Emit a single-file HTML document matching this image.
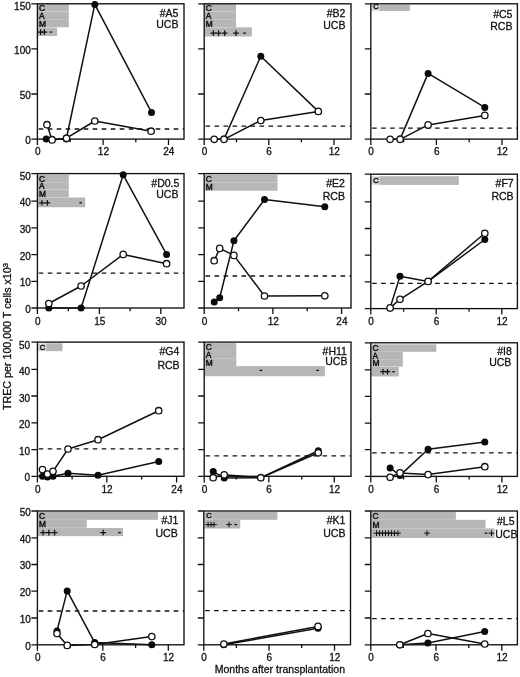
<!DOCTYPE html>
<html><head><meta charset="utf-8"><title>TREC per 100,000 T cells</title>
<style>html,body{margin:0;padding:0;background:#fff}svg{display:block}text{font-family:"Liberation Sans", Arial, Helvetica, sans-serif;fill:#111;stroke:#111;stroke-width:0.3px}text.b{stroke-width:0.45px}</style>
</head><body>
<svg width="520" height="677" viewBox="0 0 520 677">
<rect width="520" height="677" fill="#fff"/>
<g>
<rect x="37.80" y="4.10" width="31.00" height="7.25" fill="#b6b6b6"/>
<text x="39.0" y="10.8" font-size="8.4" class="b">C</text>
<rect x="37.80" y="11.45" width="31.00" height="7.65" fill="#b6b6b6"/>
<text x="39.0" y="18.6" font-size="8.4" class="b">A</text>
<rect x="37.80" y="19.20" width="31.00" height="8.05" fill="#b6b6b6"/>
<text x="39.0" y="26.8" font-size="8.4" class="b">M</text>
<rect x="37.80" y="27.56" width="19.30" height="8.45" fill="#b6b6b6"/>
<path d="M37.8 32.1h5.6M40.6 29.3v5.6" stroke="#111" stroke-width="1.20" fill="none"/>
<path d="M41.6 32.1h5.6M44.4 29.3v5.6" stroke="#111" stroke-width="1.20" fill="none"/>
<path d="M49.6 32.1h2.6" stroke="#111" stroke-width="1.3" fill="none"/>
<rect x="37.4" y="3.8" width="146.6" height="135.3" fill="none" stroke="#111" stroke-width="1.35"/>
<text x="30.8" y="144.0" font-size="10" text-anchor="end">0</text>
<text x="30.8" y="99.0" font-size="10" text-anchor="end">50</text>
<text x="30.8" y="54.0" font-size="10" text-anchor="end">100</text>
<text x="30.8" y="10.0" font-size="10" text-anchor="end">150</text>
<text x="37.7" y="155.0" font-size="10" text-anchor="middle">0</text>
<text x="103.4" y="155.0" font-size="10" text-anchor="middle">12</text>
<text x="168.8" y="155.0" font-size="10" text-anchor="middle">24</text>
<path d="M37.4 139.1h-6M37.4 94.0h-6M37.4 48.9h-6M37.4 3.8h-6M37.4 139.1v6M70.2 139.1v3.2M103.1 139.1v6M135.8 139.1v3.2M168.5 139.1v6" stroke="#111" stroke-width="1.3" fill="none"/>
<path d="M38.7 129.0H184.0" stroke="#111" stroke-width="1.3" stroke-dasharray="4.6 4.4" fill="none"/>
<polyline points="46.2,139.1 52.0,139.3 66.3,139.0 94.8,4.4 151.5,112.4" fill="none" stroke="#111" stroke-width="1.5" stroke-linejoin="round"/>
<polyline points="47.0,124.7 52.1,139.9 66.5,138.2 94.8,121.0 151.1,131.2" fill="none" stroke="#111" stroke-width="1.5" stroke-linejoin="round"/>
<circle cx="46.2" cy="139.1" r="3.5" fill="#0a0a0a"/>
<circle cx="52.0" cy="139.3" r="3.5" fill="#0a0a0a"/>
<circle cx="66.3" cy="139.0" r="3.5" fill="#0a0a0a"/>
<circle cx="94.8" cy="4.4" r="3.5" fill="#0a0a0a"/>
<circle cx="151.5" cy="112.4" r="3.5" fill="#0a0a0a"/>
<circle cx="47.0" cy="124.7" r="3.2" fill="#fff" stroke="#111" stroke-width="1.3"/>
<circle cx="52.1" cy="139.9" r="3.2" fill="#fff" stroke="#111" stroke-width="1.3"/>
<circle cx="66.5" cy="138.2" r="3.2" fill="#fff" stroke="#111" stroke-width="1.3"/>
<circle cx="94.8" cy="121.0" r="3.2" fill="#fff" stroke="#111" stroke-width="1.3"/>
<circle cx="151.1" cy="131.2" r="3.2" fill="#fff" stroke="#111" stroke-width="1.3"/>
<text x="178.4" y="17" font-size="10.5" text-anchor="end">#A5</text>
<text x="178.4" y="28" font-size="10.5" text-anchor="end">UCB</text>
</g>
<g>
<rect x="204.60" y="4.10" width="31.40" height="7.25" fill="#b6b6b6"/>
<text x="205.8" y="10.8" font-size="8.4" class="b">C</text>
<rect x="204.60" y="11.45" width="31.40" height="7.65" fill="#b6b6b6"/>
<text x="205.8" y="18.6" font-size="8.4" class="b">A</text>
<rect x="204.60" y="19.20" width="31.40" height="8.05" fill="#b6b6b6"/>
<text x="205.8" y="26.8" font-size="8.4" class="b">M</text>
<rect x="204.60" y="27.36" width="47.20" height="9.16" fill="#b6b6b6"/>
<path d="M210.5 33.1h5.6M213.3 30.3v5.6" stroke="#111" stroke-width="1.20" fill="none"/>
<path d="M215.8 33.1h5.6M218.6 30.3v5.6" stroke="#111" stroke-width="1.20" fill="none"/>
<path d="M221.9 33.1h5.6M224.7 30.3v5.6" stroke="#111" stroke-width="1.20" fill="none"/>
<path d="M233.2 33.1h5.6M236.0 30.3v5.6" stroke="#111" stroke-width="1.20" fill="none"/>
<path d="M243.2 33.1h2.6" stroke="#111" stroke-width="1.3" fill="none"/>
<rect x="204.2" y="3.8" width="146.8" height="135.3" fill="none" stroke="#111" stroke-width="1.35"/>
<text x="204.5" y="155.0" font-size="10" text-anchor="middle">0</text>
<text x="269.1" y="155.0" font-size="10" text-anchor="middle">6</text>
<text x="334.3" y="155.0" font-size="10" text-anchor="middle">12</text>
<path d="M204.2 139.1h-6M204.2 94.0h-6M204.2 48.9h-6M204.2 3.8h-6M204.2 139.1v6M236.5 139.1v3.2M268.8 139.1v6M301.4 139.1v3.2M334.0 139.1v6" stroke="#111" stroke-width="1.3" fill="none"/>
<path d="M205.5 126.2H351.0" stroke="#111" stroke-width="1.3" stroke-dasharray="4.6 4.4" fill="none"/>
<polyline points="224.0,139.1 260.8,56.2 318.3,111.4" fill="none" stroke="#111" stroke-width="1.5" stroke-linejoin="round"/>
<polyline points="214.2,139.3 224.0,139.3 260.8,120.5 318.3,111.4" fill="none" stroke="#111" stroke-width="1.5" stroke-linejoin="round"/>
<circle cx="224.0" cy="139.1" r="3.5" fill="#0a0a0a"/>
<circle cx="260.8" cy="56.2" r="3.5" fill="#0a0a0a"/>
<circle cx="318.3" cy="111.4" r="3.5" fill="#0a0a0a"/>
<circle cx="214.2" cy="139.3" r="3.2" fill="#fff" stroke="#111" stroke-width="1.3"/>
<circle cx="224.0" cy="139.3" r="3.2" fill="#fff" stroke="#111" stroke-width="1.3"/>
<circle cx="260.8" cy="120.5" r="3.2" fill="#fff" stroke="#111" stroke-width="1.3"/>
<circle cx="318.3" cy="111.4" r="3.2" fill="#fff" stroke="#111" stroke-width="1.3"/>
<text x="345.4" y="17" font-size="10.5" text-anchor="end">#B2</text>
<text x="345.4" y="29" font-size="10.5" text-anchor="end">UCB</text>
</g>
<g>
<rect x="371.20" y="4.91" width="8.80" height="5.84" fill="#d2d2d2"/>
<rect x="379.80" y="4.71" width="30.20" height="6.24" fill="#b6b6b6"/>
<text x="373.2" y="9.4" font-size="7.6" class="b">C</text>
<rect x="370.8" y="3.8" width="146.6" height="135.3" fill="none" stroke="#111" stroke-width="1.35"/>
<text x="371.1" y="155.0" font-size="10" text-anchor="middle">0</text>
<text x="436.7" y="155.0" font-size="10" text-anchor="middle">6</text>
<text x="502.3" y="155.0" font-size="10" text-anchor="middle">12</text>
<path d="M370.8 139.1h-6M370.8 94.0h-6M370.8 48.9h-6M370.8 3.8h-6M370.8 139.1v6M403.6 139.1v3.2M436.4 139.1v6M469.2 139.1v3.2M502.0 139.1v6" stroke="#111" stroke-width="1.3" fill="none"/>
<path d="M372.1 128.2H517.4" stroke="#111" stroke-width="1.3" stroke-dasharray="4.6 4.4" fill="none"/>
<polyline points="400.1,139.1 428.1,73.4 484.8,107.4" fill="none" stroke="#111" stroke-width="1.5" stroke-linejoin="round"/>
<polyline points="390.1,139.3 400.1,139.3 428.1,124.9 484.8,115.4" fill="none" stroke="#111" stroke-width="1.5" stroke-linejoin="round"/>
<circle cx="400.1" cy="139.1" r="3.5" fill="#0a0a0a"/>
<circle cx="428.1" cy="73.4" r="3.5" fill="#0a0a0a"/>
<circle cx="484.8" cy="107.4" r="3.5" fill="#0a0a0a"/>
<circle cx="390.1" cy="139.3" r="3.2" fill="#fff" stroke="#111" stroke-width="1.3"/>
<circle cx="400.1" cy="139.3" r="3.2" fill="#fff" stroke="#111" stroke-width="1.3"/>
<circle cx="428.1" cy="124.9" r="3.2" fill="#fff" stroke="#111" stroke-width="1.3"/>
<circle cx="484.8" cy="115.4" r="3.2" fill="#fff" stroke="#111" stroke-width="1.3"/>
<text x="512.4" y="18" font-size="10.5" text-anchor="end">#C5</text>
<text x="512.4" y="30" font-size="10.5" text-anchor="end">RCB</text>
</g>
<g>
<rect x="37.80" y="174.70" width="31.00" height="7.41" fill="#b6b6b6"/>
<text x="39.0" y="181.6" font-size="8.4" class="b">C</text>
<rect x="37.80" y="182.21" width="31.00" height="7.41" fill="#b6b6b6"/>
<text x="39.0" y="189.1" font-size="8.4" class="b">A</text>
<rect x="37.80" y="189.72" width="31.00" height="7.61" fill="#b6b6b6"/>
<text x="39.0" y="196.8" font-size="8.4" class="b">M</text>
<rect x="37.80" y="197.54" width="47.40" height="9.71" fill="#b6b6b6"/>
<path d="M39.1 202.8h5.6M41.9 200.0v5.6" stroke="#111" stroke-width="1.20" fill="none"/>
<path d="M44.6 202.8h5.6M47.4 200.0v5.6" stroke="#111" stroke-width="1.20" fill="none"/>
<path d="M79.4 202.8h2.6" stroke="#111" stroke-width="1.3" fill="none"/>
<rect x="37.4" y="173.6" width="146.6" height="134.4" fill="none" stroke="#111" stroke-width="1.35"/>
<text x="30.8" y="313.0" font-size="10" text-anchor="end">0</text>
<text x="30.8" y="286.0" font-size="10" text-anchor="end">10</text>
<text x="30.8" y="260.0" font-size="10" text-anchor="end">20</text>
<text x="30.8" y="233.0" font-size="10" text-anchor="end">30</text>
<text x="30.8" y="206.0" font-size="10" text-anchor="end">40</text>
<text x="30.8" y="180.0" font-size="10" text-anchor="end">50</text>
<text x="37.7" y="325.0" font-size="10" text-anchor="middle">0</text>
<text x="99.7" y="325.0" font-size="10" text-anchor="middle">15</text>
<text x="161.1" y="325.0" font-size="10" text-anchor="middle">30</text>
<path d="M37.4 308.0h-6M37.4 281.3h-6M37.4 254.6h-6M37.4 227.9h-6M37.4 201.2h-6M37.4 173.6h-6M37.4 308.0v6M68.4 308.0v3.2M99.4 308.0v6M130.1 308.0v3.2M160.8 308.0v6" stroke="#111" stroke-width="1.3" fill="none"/>
<path d="M38.7 273.2H184.0" stroke="#111" stroke-width="1.3" stroke-dasharray="4.6 4.4" fill="none"/>
<polyline points="48.8,308.0 81.1,308.0 123.2,174.8 166.6,254.4" fill="none" stroke="#111" stroke-width="1.5" stroke-linejoin="round"/>
<polyline points="48.8,303.5 81.1,286.0 123.2,254.4 166.6,263.7" fill="none" stroke="#111" stroke-width="1.5" stroke-linejoin="round"/>
<circle cx="48.8" cy="308.0" r="3.5" fill="#0a0a0a"/>
<circle cx="81.1" cy="308.0" r="3.5" fill="#0a0a0a"/>
<circle cx="123.2" cy="174.8" r="3.5" fill="#0a0a0a"/>
<circle cx="166.6" cy="254.4" r="3.5" fill="#0a0a0a"/>
<circle cx="48.8" cy="303.5" r="3.2" fill="#fff" stroke="#111" stroke-width="1.3"/>
<circle cx="81.1" cy="286.0" r="3.2" fill="#fff" stroke="#111" stroke-width="1.3"/>
<circle cx="123.2" cy="254.4" r="3.2" fill="#fff" stroke="#111" stroke-width="1.3"/>
<circle cx="166.6" cy="263.7" r="3.2" fill="#fff" stroke="#111" stroke-width="1.3"/>
<text x="179.4" y="187" font-size="10.5" text-anchor="end">#D0.5</text>
<text x="178.4" y="198" font-size="10.5" text-anchor="end">UCB</text>
</g>
<g>
<rect x="204.60" y="174.90" width="72.90" height="7.81" fill="#b6b6b6"/>
<text x="205.8" y="182.2" font-size="8.4" class="b">C</text>
<rect x="204.60" y="182.81" width="72.90" height="7.91" fill="#b6b6b6"/>
<text x="205.8" y="190.2" font-size="8.4" class="b">M</text>
<rect x="204.2" y="173.6" width="146.8" height="134.4" fill="none" stroke="#111" stroke-width="1.35"/>
<text x="204.5" y="325.0" font-size="10" text-anchor="middle">0</text>
<text x="273.2" y="325.0" font-size="10" text-anchor="middle">12</text>
<text x="341.9" y="325.0" font-size="10" text-anchor="middle">24</text>
<path d="M204.2 308.0h-6M204.2 281.3h-6M204.2 254.6h-6M204.2 227.9h-6M204.2 201.2h-6M204.2 173.6h-6M204.2 308.0v6M238.5 308.0v3.2M272.9 308.0v6M307.2 308.0v3.2M341.6 308.0v6" stroke="#111" stroke-width="1.3" fill="none"/>
<path d="M205.5 276.0H351.0" stroke="#111" stroke-width="1.3" stroke-dasharray="4.6 4.4" fill="none"/>
<polyline points="214.2,302.1 219.7,297.8 233.9,240.8 264.5,199.5 324.8,206.8" fill="none" stroke="#111" stroke-width="1.5" stroke-linejoin="round"/>
<polyline points="214.2,260.7 219.7,248.4 233.9,255.4 264.5,296.0 324.8,295.8" fill="none" stroke="#111" stroke-width="1.5" stroke-linejoin="round"/>
<circle cx="214.2" cy="302.1" r="3.5" fill="#0a0a0a"/>
<circle cx="219.7" cy="297.8" r="3.5" fill="#0a0a0a"/>
<circle cx="233.9" cy="240.8" r="3.5" fill="#0a0a0a"/>
<circle cx="264.5" cy="199.5" r="3.5" fill="#0a0a0a"/>
<circle cx="324.8" cy="206.8" r="3.5" fill="#0a0a0a"/>
<circle cx="214.2" cy="260.7" r="3.2" fill="#fff" stroke="#111" stroke-width="1.3"/>
<circle cx="219.7" cy="248.4" r="3.2" fill="#fff" stroke="#111" stroke-width="1.3"/>
<circle cx="233.9" cy="255.4" r="3.2" fill="#fff" stroke="#111" stroke-width="1.3"/>
<circle cx="264.5" cy="296.0" r="3.2" fill="#fff" stroke="#111" stroke-width="1.3"/>
<circle cx="324.8" cy="295.8" r="3.2" fill="#fff" stroke="#111" stroke-width="1.3"/>
<text x="344.9" y="187" font-size="10.5" text-anchor="end">#E2</text>
<text x="344.9" y="200" font-size="10.5" text-anchor="end">RCB</text>
</g>
<g>
<rect x="371.20" y="176.40" width="8.80" height="8.31" fill="#d2d2d2"/>
<rect x="379.80" y="176.20" width="79.00" height="8.71" fill="#b6b6b6"/>
<text x="373.2" y="183.4" font-size="7.6" class="b">C</text>
<rect x="370.8" y="174.2" width="146.6" height="134.4" fill="none" stroke="#111" stroke-width="1.35"/>
<text x="371.1" y="325.0" font-size="10" text-anchor="middle">0</text>
<text x="436.5" y="325.0" font-size="10" text-anchor="middle">6</text>
<text x="502.1" y="325.0" font-size="10" text-anchor="middle">12</text>
<path d="M370.8 308.6h-6M370.8 281.9h-6M370.8 255.2h-6M370.8 228.5h-6M370.8 201.8h-6M370.8 174.2h-6M370.8 308.6v6M403.6 308.6v3.2M436.2 308.6v6M469.0 308.6v3.2M501.8 308.6v6" stroke="#111" stroke-width="1.3" fill="none"/>
<path d="M372.1 283.4H517.4" stroke="#111" stroke-width="1.3" stroke-dasharray="4.6 4.4" fill="none"/>
<polyline points="390.1,307.9 400.0,276.3 428.1,281.4 484.8,239.5" fill="none" stroke="#111" stroke-width="1.5" stroke-linejoin="round"/>
<polyline points="390.1,307.9 400.0,299.3 428.1,281.4 484.8,233.3" fill="none" stroke="#111" stroke-width="1.5" stroke-linejoin="round"/>
<circle cx="390.1" cy="307.9" r="3.5" fill="#0a0a0a"/>
<circle cx="400.0" cy="276.3" r="3.5" fill="#0a0a0a"/>
<circle cx="428.1" cy="281.4" r="3.5" fill="#0a0a0a"/>
<circle cx="484.8" cy="239.5" r="3.5" fill="#0a0a0a"/>
<circle cx="390.1" cy="307.9" r="3.2" fill="#fff" stroke="#111" stroke-width="1.3"/>
<circle cx="400.0" cy="299.3" r="3.2" fill="#fff" stroke="#111" stroke-width="1.3"/>
<circle cx="428.1" cy="281.4" r="3.2" fill="#fff" stroke="#111" stroke-width="1.3"/>
<circle cx="484.8" cy="233.3" r="3.2" fill="#fff" stroke="#111" stroke-width="1.3"/>
<text x="513.7" y="187" font-size="10.5" text-anchor="end">#F7</text>
<text x="513.6" y="200" font-size="10.5" text-anchor="end">RCB</text>
</g>
<g>
<rect x="37.80" y="343.45" width="8.80" height="7.52" fill="#d2d2d2"/>
<rect x="46.40" y="343.25" width="16.10" height="7.92" fill="#b6b6b6"/>
<text x="39.8" y="349.7" font-size="7.6" class="b">C</text>
<rect x="37.4" y="342.1" width="146.6" height="134.2" fill="none" stroke="#111" stroke-width="1.35"/>
<text x="30.0" y="481.0" font-size="10" text-anchor="end">0</text>
<text x="30.0" y="455.0" font-size="10" text-anchor="end">10</text>
<text x="30.0" y="428.0" font-size="10" text-anchor="end">20</text>
<text x="30.0" y="402.0" font-size="10" text-anchor="end">30</text>
<text x="30.0" y="375.0" font-size="10" text-anchor="end">40</text>
<text x="30.0" y="349.0" font-size="10" text-anchor="end">50</text>
<text x="37.7" y="493.0" font-size="10" text-anchor="middle">0</text>
<text x="107.1" y="493.0" font-size="10" text-anchor="middle">12</text>
<text x="176.9" y="493.0" font-size="10" text-anchor="middle">24</text>
<path d="M37.4 476.4h-6M37.4 449.6h-6M37.4 422.8h-6M37.4 396.0h-6M37.4 369.3h-6M37.4 342.1h-6M37.4 476.4v6M72.1 476.4v3.2M106.8 476.4v6M141.7 476.4v3.2M176.6 476.4v6" stroke="#111" stroke-width="1.3" fill="none"/>
<path d="M38.7 448.8H184.0" stroke="#111" stroke-width="1.3" stroke-dasharray="4.6 4.4" fill="none"/>
<polyline points="42.5,476.3 47.5,476.9 53.0,476.3 68.0,473.3 98.0,475.3 158.7,461.6" fill="none" stroke="#111" stroke-width="1.5" stroke-linejoin="round"/>
<polyline points="42.5,469.6 47.5,474.0 53.0,471.3 68.0,449.0 98.0,439.7 158.7,410.7" fill="none" stroke="#111" stroke-width="1.5" stroke-linejoin="round"/>
<circle cx="42.5" cy="476.3" r="3.5" fill="#0a0a0a"/>
<circle cx="47.5" cy="476.9" r="3.5" fill="#0a0a0a"/>
<circle cx="53.0" cy="476.3" r="3.5" fill="#0a0a0a"/>
<circle cx="68.0" cy="473.3" r="3.5" fill="#0a0a0a"/>
<circle cx="98.0" cy="475.3" r="3.5" fill="#0a0a0a"/>
<circle cx="158.7" cy="461.6" r="3.5" fill="#0a0a0a"/>
<circle cx="42.5" cy="469.6" r="3.2" fill="#fff" stroke="#111" stroke-width="1.3"/>
<circle cx="47.5" cy="474.0" r="3.2" fill="#fff" stroke="#111" stroke-width="1.3"/>
<circle cx="53.0" cy="471.3" r="3.2" fill="#fff" stroke="#111" stroke-width="1.3"/>
<circle cx="68.0" cy="449.0" r="3.2" fill="#fff" stroke="#111" stroke-width="1.3"/>
<circle cx="98.0" cy="439.7" r="3.2" fill="#fff" stroke="#111" stroke-width="1.3"/>
<circle cx="158.7" cy="410.7" r="3.2" fill="#fff" stroke="#111" stroke-width="1.3"/>
<text x="179.4" y="355" font-size="10.5" text-anchor="end">#G4</text>
<text x="179.6" y="369" font-size="10.5" text-anchor="end">RCB</text>
</g>
<g>
<rect x="204.60" y="343.05" width="31.70" height="7.82" fill="#b6b6b6"/>
<text x="205.8" y="350.4" font-size="8.4" class="b">C</text>
<rect x="204.60" y="350.88" width="31.70" height="7.72" fill="#b6b6b6"/>
<text x="205.8" y="358.1" font-size="8.4" class="b">A</text>
<rect x="204.60" y="358.60" width="31.70" height="7.72" fill="#b6b6b6"/>
<text x="205.8" y="365.8" font-size="8.4" class="b">M</text>
<rect x="204.60" y="366.12" width="120.30" height="10.13" fill="#b6b6b6"/>
<path d="M259.5 370.4h2.6" stroke="#111" stroke-width="1.3" fill="none"/>
<path d="M316.3 370.4h2.6" stroke="#111" stroke-width="1.3" fill="none"/>
<rect x="204.2" y="342.1" width="146.8" height="134.2" fill="none" stroke="#111" stroke-width="1.35"/>
<text x="204.5" y="493.0" font-size="10" text-anchor="middle">0</text>
<text x="269.1" y="493.0" font-size="10" text-anchor="middle">6</text>
<text x="334.6" y="493.0" font-size="10" text-anchor="middle">12</text>
<path d="M204.2 476.4h-6M204.2 449.6h-6M204.2 422.8h-6M204.2 396.0h-6M204.2 369.3h-6M204.2 342.1h-6M204.2 476.4v6M236.3 476.4v3.2M268.8 476.4v6M301.8 476.4v3.2M334.3 476.4v6" stroke="#111" stroke-width="1.3" fill="none"/>
<path d="M205.5 455.8H351.0" stroke="#111" stroke-width="1.3" stroke-dasharray="4.6 4.4" fill="none"/>
<polyline points="213.2,471.6 224.2,477.9 260.8,477.7 318.3,450.8" fill="none" stroke="#111" stroke-width="1.5" stroke-linejoin="round"/>
<polyline points="213.2,477.7 224.2,474.8 260.8,477.7 318.3,452.8" fill="none" stroke="#111" stroke-width="1.5" stroke-linejoin="round"/>
<circle cx="213.2" cy="471.6" r="3.5" fill="#0a0a0a"/>
<circle cx="224.2" cy="477.9" r="3.5" fill="#0a0a0a"/>
<circle cx="260.8" cy="477.7" r="3.5" fill="#0a0a0a"/>
<circle cx="318.3" cy="450.8" r="3.5" fill="#0a0a0a"/>
<circle cx="213.2" cy="477.7" r="3.2" fill="#fff" stroke="#111" stroke-width="1.3"/>
<circle cx="224.2" cy="474.8" r="3.2" fill="#fff" stroke="#111" stroke-width="1.3"/>
<circle cx="260.8" cy="477.7" r="3.2" fill="#fff" stroke="#111" stroke-width="1.3"/>
<circle cx="318.3" cy="452.8" r="3.2" fill="#fff" stroke="#111" stroke-width="1.3"/>
<text x="346.9" y="355" font-size="10.5" text-anchor="end">#H11</text>
<text x="347.4" y="365" font-size="10.5" text-anchor="end">UCB</text>
</g>
<g>
<rect x="371.20" y="344.35" width="65.10" height="7.48" fill="#b6b6b6"/>
<text x="372.4" y="351.3" font-size="8.4" class="b">C</text>
<rect x="371.20" y="351.83" width="31.60" height="7.38" fill="#b6b6b6"/>
<text x="372.4" y="358.7" font-size="8.4" class="b">A</text>
<rect x="371.20" y="359.21" width="31.60" height="7.38" fill="#b6b6b6"/>
<text x="372.4" y="366.1" font-size="8.4" class="b">M</text>
<rect x="371.20" y="366.90" width="27.60" height="9.58" fill="#b6b6b6"/>
<path d="M380.2 371.7h5.6M383.0 368.9v5.6" stroke="#111" stroke-width="1.20" fill="none"/>
<path d="M384.7 371.7h5.6M387.5 368.9v5.6" stroke="#111" stroke-width="1.20" fill="none"/>
<path d="M392.2 371.7h2.6" stroke="#111" stroke-width="1.3" fill="none"/>
<rect x="370.8" y="342.8" width="146.6" height="133.6" fill="none" stroke="#111" stroke-width="1.35"/>
<text x="371.1" y="493.0" font-size="10" text-anchor="middle">0</text>
<text x="436.6" y="493.0" font-size="10" text-anchor="middle">6</text>
<text x="502.2" y="493.0" font-size="10" text-anchor="middle">12</text>
<path d="M370.8 476.4h-6M370.8 449.7h-6M370.8 423.1h-6M370.8 396.4h-6M370.8 369.9h-6M370.8 342.8h-6M370.8 476.4v6M403.6 476.4v3.2M436.3 476.4v6M469.1 476.4v3.2M501.9 476.4v6" stroke="#111" stroke-width="1.3" fill="none"/>
<path d="M372.1 452.9H517.4" stroke="#111" stroke-width="1.3" stroke-dasharray="4.6 4.4" fill="none"/>
<polyline points="390.1,467.9 400.0,475.4 428.1,449.2 484.8,441.9" fill="none" stroke="#111" stroke-width="1.5" stroke-linejoin="round"/>
<polyline points="390.1,477.3 400.0,472.9 428.1,474.6 484.8,466.7" fill="none" stroke="#111" stroke-width="1.5" stroke-linejoin="round"/>
<circle cx="390.1" cy="467.9" r="3.5" fill="#0a0a0a"/>
<circle cx="400.0" cy="475.4" r="3.5" fill="#0a0a0a"/>
<circle cx="428.1" cy="449.2" r="3.5" fill="#0a0a0a"/>
<circle cx="484.8" cy="441.9" r="3.5" fill="#0a0a0a"/>
<circle cx="390.1" cy="477.3" r="3.2" fill="#fff" stroke="#111" stroke-width="1.3"/>
<circle cx="400.0" cy="472.9" r="3.2" fill="#fff" stroke="#111" stroke-width="1.3"/>
<circle cx="428.1" cy="474.6" r="3.2" fill="#fff" stroke="#111" stroke-width="1.3"/>
<circle cx="484.8" cy="466.7" r="3.2" fill="#fff" stroke="#111" stroke-width="1.3"/>
<text x="511.8" y="355" font-size="10.5" text-anchor="end">#I8</text>
<text x="511.3" y="366" font-size="10.5" text-anchor="end">UCB</text>
</g>
<g>
<rect x="37.80" y="512.00" width="120.20" height="7.81" fill="#b6b6b6"/>
<text x="39.0" y="519.3" font-size="8.4" class="b">C</text>
<rect x="37.80" y="519.81" width="49.00" height="8.01" fill="#b6b6b6"/>
<text x="39.0" y="527.3" font-size="8.4" class="b">M</text>
<rect x="37.80" y="528.02" width="85.20" height="8.11" fill="#b6b6b6"/>
<path d="M40.3 532.6h5.6M43.1 529.8v5.6" stroke="#111" stroke-width="1.20" fill="none"/>
<path d="M46.0 532.6h5.6M48.8 529.8v5.6" stroke="#111" stroke-width="1.20" fill="none"/>
<path d="M51.8 532.6h5.6M54.6 529.8v5.6" stroke="#111" stroke-width="1.20" fill="none"/>
<path d="M100.4 532.6h5.6M103.2 529.8v5.6" stroke="#111" stroke-width="1.20" fill="none"/>
<path d="M118.2 532.6h2.6" stroke="#111" stroke-width="1.3" fill="none"/>
<rect x="37.4" y="511.0" width="146.6" height="133.8" fill="none" stroke="#111" stroke-width="1.35"/>
<text x="30.8" y="650.0" font-size="10" text-anchor="end">0</text>
<text x="30.8" y="623.0" font-size="10" text-anchor="end">10</text>
<text x="30.8" y="596.0" font-size="10" text-anchor="end">20</text>
<text x="30.8" y="569.0" font-size="10" text-anchor="end">30</text>
<text x="30.8" y="543.0" font-size="10" text-anchor="end">40</text>
<text x="30.8" y="516.0" font-size="10" text-anchor="end">50</text>
<text x="37.7" y="661.0" font-size="10" text-anchor="middle">0</text>
<text x="103.1" y="661.0" font-size="10" text-anchor="middle">6</text>
<text x="168.6" y="661.0" font-size="10" text-anchor="middle">12</text>
<path d="M37.4 644.8h-6M37.4 618.0h-6M37.4 591.2h-6M37.4 564.5h-6M37.4 537.8h-6M37.4 511.0h-6M37.4 644.8v6M70.1 644.8v3.2M102.8 644.8v6M135.6 644.8v3.2M168.3 644.8v6" stroke="#111" stroke-width="1.3" fill="none"/>
<path d="M38.7 611.0H184.0" stroke="#111" stroke-width="1.3" stroke-dasharray="4.6 4.4" fill="none"/>
<polyline points="57.0,630.9 67.2,590.9 94.7,642.6 151.8,644.8" fill="none" stroke="#111" stroke-width="1.5" stroke-linejoin="round"/>
<polyline points="57.0,633.5 67.2,645.4 94.7,644.5 151.8,636.6" fill="none" stroke="#111" stroke-width="1.5" stroke-linejoin="round"/>
<circle cx="57.0" cy="630.9" r="3.5" fill="#0a0a0a"/>
<circle cx="67.2" cy="590.9" r="3.5" fill="#0a0a0a"/>
<circle cx="94.7" cy="642.6" r="3.5" fill="#0a0a0a"/>
<circle cx="151.8" cy="644.8" r="3.5" fill="#0a0a0a"/>
<circle cx="57.0" cy="633.5" r="3.2" fill="#fff" stroke="#111" stroke-width="1.3"/>
<circle cx="67.2" cy="645.4" r="3.2" fill="#fff" stroke="#111" stroke-width="1.3"/>
<circle cx="94.7" cy="644.5" r="3.2" fill="#fff" stroke="#111" stroke-width="1.3"/>
<circle cx="151.8" cy="636.6" r="3.2" fill="#fff" stroke="#111" stroke-width="1.3"/>
<text x="178.4" y="524" font-size="10.5" text-anchor="end">#J1</text>
<text x="177.7" y="537" font-size="10.5" text-anchor="end">UCB</text>
</g>
<g>
<rect x="204.20" y="512.20" width="8.80" height="7.41" fill="#bdbdbd"/>
<rect x="212.80" y="512.00" width="64.60" height="7.81" fill="#b6b6b6"/>
<text x="206.2" y="518.3" font-size="7.6" class="b">C</text>
<rect x="204.20" y="519.71" width="36.00" height="8.81" fill="#b6b6b6"/>
<path d="M205.3 524.6h5.6M208.1 521.8v5.6" stroke="#111" stroke-width="1.00" fill="none"/>
<path d="M208.2 524.6h5.6M211.0 521.8v5.6" stroke="#111" stroke-width="1.00" fill="none"/>
<path d="M211.1 524.6h5.6M213.9 521.8v5.6" stroke="#111" stroke-width="1.00" fill="none"/>
<path d="M226.2 524.6h5.6M229.0 521.8v5.6" stroke="#111" stroke-width="1.00" fill="none"/>
<path d="M234.5 524.6h2.6" stroke="#111" stroke-width="1.3" fill="none"/>
<rect x="203.8" y="511.0" width="146.7" height="133.8" fill="none" stroke="#111" stroke-width="1.35"/>
<text x="204.1" y="661.0" font-size="10" text-anchor="middle">0</text>
<text x="269.3" y="661.0" font-size="10" text-anchor="middle">6</text>
<text x="334.8" y="661.0" font-size="10" text-anchor="middle">12</text>
<path d="M203.8 644.8h-6M203.8 618.0h-6M203.8 591.2h-6M203.8 564.5h-6M203.8 537.8h-6M203.8 511.0h-6M203.8 644.8v6M236.4 644.8v3.2M269.0 644.8v6M301.7 644.8v3.2M334.5 644.8v6" stroke="#111" stroke-width="1.3" fill="none"/>
<path d="M205.1 610.7H350.5" stroke="#111" stroke-width="1.3" stroke-dasharray="4.6 4.4" fill="none"/>
<polyline points="223.8,644.8 318.0,628.3" fill="none" stroke="#111" stroke-width="1.5" stroke-linejoin="round"/>
<polyline points="223.8,644.0 318.0,626.4" fill="none" stroke="#111" stroke-width="1.5" stroke-linejoin="round"/>
<circle cx="223.8" cy="644.8" r="3.5" fill="#0a0a0a"/>
<circle cx="318.0" cy="628.3" r="3.5" fill="#0a0a0a"/>
<circle cx="223.8" cy="644.0" r="3.2" fill="#fff" stroke="#111" stroke-width="1.3"/>
<circle cx="318.0" cy="626.4" r="3.2" fill="#fff" stroke="#111" stroke-width="1.3"/>
<text x="345.4" y="524" font-size="10.5" text-anchor="end">#K1</text>
<text x="345.4" y="537" font-size="10.5" text-anchor="end">UCB</text>
</g>
<g>
<rect x="371.20" y="512.00" width="84.70" height="7.81" fill="#b6b6b6"/>
<text x="372.4" y="519.3" font-size="8.4" class="b">C</text>
<rect x="371.20" y="519.81" width="114.30" height="8.61" fill="#b6b6b6"/>
<text x="372.4" y="527.9" font-size="8.4" class="b">M</text>
<rect x="371.20" y="528.42" width="123.40" height="9.61" fill="#b6b6b6"/>
<path d="M373.7 533.2h5.6M376.5 530.4v5.6" stroke="#111" stroke-width="1.00" fill="none"/>
<path d="M376.7 533.2h5.6M379.5 530.4v5.6" stroke="#111" stroke-width="1.00" fill="none"/>
<path d="M379.7 533.2h5.6M382.5 530.4v5.6" stroke="#111" stroke-width="1.00" fill="none"/>
<path d="M382.7 533.2h5.6M385.5 530.4v5.6" stroke="#111" stroke-width="1.00" fill="none"/>
<path d="M385.7 533.2h5.6M388.5 530.4v5.6" stroke="#111" stroke-width="1.00" fill="none"/>
<path d="M388.7 533.2h5.6M391.5 530.4v5.6" stroke="#111" stroke-width="1.00" fill="none"/>
<path d="M391.7 533.2h5.6M394.5 530.4v5.6" stroke="#111" stroke-width="1.00" fill="none"/>
<path d="M395.2 533.2h5.6M398.0 530.4v5.6" stroke="#111" stroke-width="1.00" fill="none"/>
<path d="M424.2 533.2h5.6M427.0 530.4v5.6" stroke="#111" stroke-width="1.00" fill="none"/>
<path d="M484.7 533.2h2.6" stroke="#111" stroke-width="1.3" fill="none"/>
<path d="M488.7 533.2h5.6M491.5 530.4v5.6" stroke="#111" stroke-width="1.00" fill="none"/>
<rect x="370.8" y="511.0" width="146.6" height="133.8" fill="none" stroke="#111" stroke-width="1.35"/>
<text x="371.1" y="661.0" font-size="10" text-anchor="middle">0</text>
<text x="436.3" y="661.0" font-size="10" text-anchor="middle">6</text>
<text x="502.1" y="661.0" font-size="10" text-anchor="middle">12</text>
<path d="M370.8 644.8h-6M370.8 618.0h-6M370.8 591.2h-6M370.8 564.5h-6M370.8 537.8h-6M370.8 511.0h-6M370.8 644.8v6M403.3 644.8v3.2M436.0 644.8v6M468.8 644.8v3.2M501.8 644.8v6" stroke="#111" stroke-width="1.3" fill="none"/>
<path d="M372.1 618.6H517.4" stroke="#111" stroke-width="1.3" stroke-dasharray="4.6 4.4" fill="none"/>
<polyline points="399.8,644.8 427.9,642.9 484.7,631.4" fill="none" stroke="#111" stroke-width="1.5" stroke-linejoin="round"/>
<polyline points="399.8,644.8 427.9,633.5 484.7,644.0" fill="none" stroke="#111" stroke-width="1.5" stroke-linejoin="round"/>
<circle cx="399.8" cy="644.8" r="3.5" fill="#0a0a0a"/>
<circle cx="427.9" cy="642.9" r="3.5" fill="#0a0a0a"/>
<circle cx="484.7" cy="631.4" r="3.5" fill="#0a0a0a"/>
<circle cx="399.8" cy="644.8" r="3.2" fill="#fff" stroke="#111" stroke-width="1.3"/>
<circle cx="427.9" cy="633.5" r="3.2" fill="#fff" stroke="#111" stroke-width="1.3"/>
<circle cx="484.7" cy="644.0" r="3.2" fill="#fff" stroke="#111" stroke-width="1.3"/>
<text x="514.5" y="525" font-size="10.5" text-anchor="end">#L5</text>
<text x="517.4" y="538" font-size="10.5" text-anchor="end">UCB</text>
</g>
<text x="214.7" y="673" font-size="10.5" textLength="130.3" lengthAdjust="spacingAndGlyphs">Months after transplantation</text>
<text transform="translate(11.3 410) rotate(-90)" font-size="10.5" textLength="147" lengthAdjust="spacingAndGlyphs">TREC per 100,000 T cells x10<tspan dy="-3.6" font-size="7.6">3</tspan></text>
</svg></body></html>
